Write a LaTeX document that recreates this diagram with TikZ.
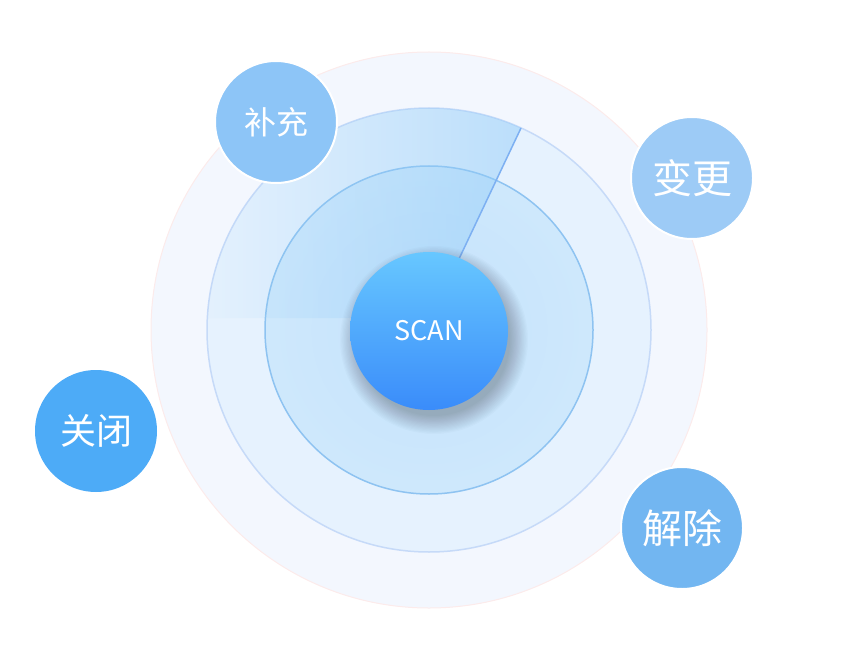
\documentclass[tikz,border=0pt]{standalone}
\usepackage{fontspec}
\newfontfamily\cjk{Noto Sans CJK SC}
\usetikzlibrary{fadings}
\definecolor{outerfill}{HTML}{F3F7FE}
\definecolor{outerline}{HTML}{FCEBEB}
\definecolor{ringline}{HTML}{C6DAF8}
\definecolor{innerline}{HTML}{8EC3F1}
\definecolor{sweepline}{HTML}{7DB0F2}
\definecolor{sweepfill}{HTML}{92CCF8}
\definecolor{scantop}{HTML}{67C7FF}
\definecolor{scanbot}{HTML}{3A8CFA}
\definecolor{cbuchong}{HTML}{8DC5F7}
\definecolor{cbiangeng}{HTML}{9DCBF6}
\definecolor{cguanbi}{HTML}{4DABF7}
\definecolor{cjiechu}{HTML}{72B6F1}
\definecolor{ringA}{HTML}{E6F2FE}
\definecolor{ringB}{HTML}{DCECFD}
\definecolor{inA}{HTML}{C4E2FB}
\definecolor{inB}{HTML}{CEE8FC}
\definecolor{inC}{HTML}{B2D9FA}
\pgfdeclareradialshading{ringshade}{\pgfpoint{0bp}{0bp}}{color(0bp)=(ringA); color(37bp)=(ringA); color(50bp)=(ringB)}
\pgfdeclareradialshading{innershade}{\pgfpoint{0bp}{0bp}}{color(0bp)=(inA); color(24bp)=(inB); color(36bp)=(inB); color(50bp)=(inC)}
\tikzfading[name=sweepfade, left color=transparent!100, right color=transparent!45]
\tikzset{
  action/.style={circle, draw=white, line width=2pt, minimum size=122pt, inner sep=0pt, text=white},
  shadowlayer/.style={fill=black, opacity=0.016},
}
\begin{document}
\begin{tikzpicture}[x=1pt,y=-1pt]
\useasboundingbox (0,0) rectangle (866,660);
\coordinate (c) at (429,330);
% outer disk
\fill[outerfill] (c) circle[radius=278];
\draw[outerline, line width=1pt] (c) circle[radius=278];
% second ring
\shade[shading=ringshade] (c) circle[radius=222];
\draw[ringline, line width=1.5pt] (c) circle[radius=222];
% inner disk
\shade[shading=innershade] (c) circle[radius=164];
\draw[innerline, line width=1.5pt] (c) circle[radius=164];
% sweep
\coordinate (apex) at (431,318);
\coordinate (tip) at (521,128);
\begin{scope}
  \clip (c) circle[radius=222];
  \fill[sweepfill, path fading=sweepfade] (apex) -- (190,318) -- (190,60) -- (553.2,60) -- cycle;
\end{scope}
\draw[sweepline, line width=1.5pt] (apex) -- (tip);
% soft shadow of the centre
\coordinate (shc) at (434,340);
\foreach \r in {76,77.2,...,94} {\fill[shadowlayer] (shc) circle[radius=\r];}
% center
\node[circle, minimum size=158pt, inner sep=0pt, top color=scantop, bottom color=scanbot, text=white,
  font=\cjk\fontsize{27}{30}\selectfont] (scan) at (429,331) {SCAN};
% action bubbles
\node[action, fill=cbuchong, font=\cjk\fontsize{32}{36}\selectfont] (buchong) at (276,122) {补充};
\node[action, fill=cbiangeng, font=\cjk\fontsize{40}{44}\selectfont] (biangeng) at (692,178) {变更};
\node[action, fill=cguanbi, draw=none, font=\cjk\fontsize{36}{40}\selectfont] (guanbi) at (96,431) {关闭};
\node[action, fill=cjiechu, font=\cjk\fontsize{40}{44}\selectfont] (jiechu) at (682,528) {解除};
\end{tikzpicture}
\end{document}
